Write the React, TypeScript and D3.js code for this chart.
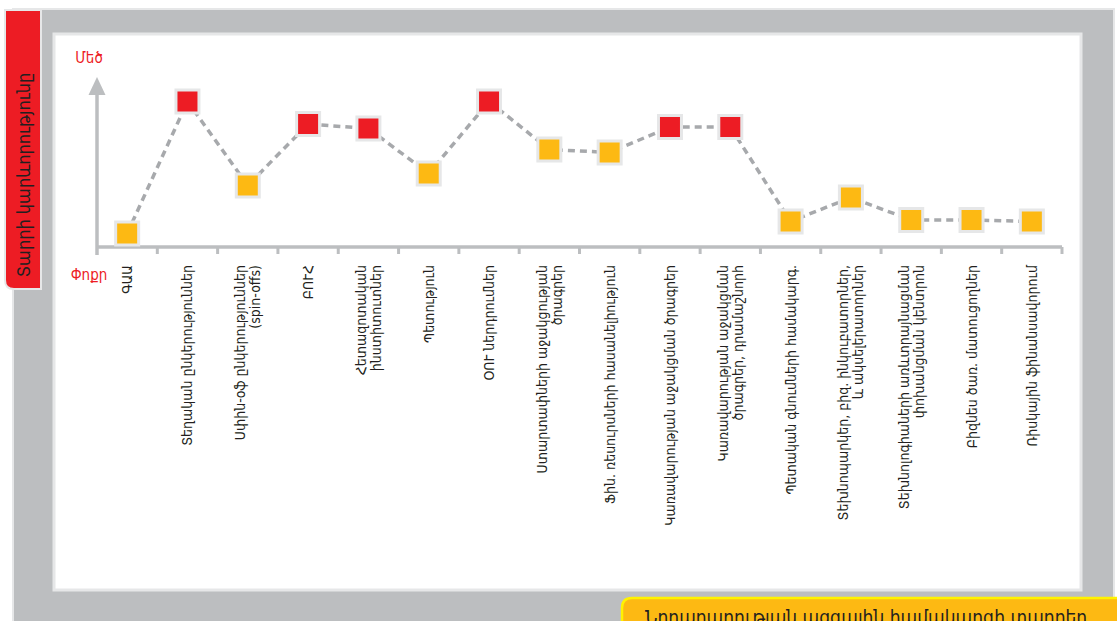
import React from "react";
import * as d3 from "d3";

const categories: string[] = [
  "ԳԱԱ",
  "Տեղական ընկերություններ",
  "Սփին-օֆ ընկերություններ\n(spin-offs)",
  "ԲՈՒՀ",
  "Հետազոտական\nինստիտուտներ",
  "Պետություն",
  "ՕՈՒ ներդրումներ",
  "Ստարտափների աջակցության\nծրագրեր",
  "Ֆին. ռեսուրսների հասանելիություն",
  "Կառավարության աջակցման ծրագրեր",
  "Կառավարության աջակցման\nծրագրեր, դրամաշնորհ",
  "Պետական գնումների համակարգ.",
  "Տեխնոպարկեր, բիզ. ինկուբատորներ,\nև ակսելերատորներ",
  "Տեխնոլոգիաների առևտրայնացման\nփոխանցման կենտրոն",
  "Բիզնես ծառ. մատուցողներ",
  "Ռիսկային ֆինանսավորում",
];

const importance: number[] = [0.9, 9.7, 4.1, 8.2, 7.9, 4.9, 9.7, 6.5, 6.3, 8.0, 8.0, 1.7, 3.3, 1.8, 1.8, 1.7];
const level: string[] = ["low", "high", "low", "high", "high", "low", "high", "low", "low", "high", "high", "low", "low", "low", "low", "low"];

const yAxisTitle = "Տարրի կարևորությունը";
const highLabel = "Մեծ";
const lowLabel = "Փոքր";
const bannerText = "Նորարարության ազգային համակարգի տարրեր";

const RED = "#ED1C24";
const YELLOW = "#FDB913";
const AXIS = "#BCBEC0";
const FONT = "'DejaVu Sans Condensed', 'DejaVu Sans', sans-serif";

export default function App() {
  const W = 1117, H = 621;
  const x0 = 97, x1 = 1062, axisY = 247;
  const x = d3.scaleBand<number>().domain(d3.range(categories.length)).range([x0, x1]).padding(0);
  const y = d3.scaleLinear().domain([0, 10]).range([axisY, 97]);
  const cx = (i: number) => (x(i) as number) + x.bandwidth() / 2;
  const line = d3.line<number>().x((d, i) => cx(i)).y((d) => y(d));
  const ticks = d3.range(1, categories.length + 1).map((i) => x0 + i * x.step());
  const lh = 15;

  return (
    <svg width={W} height={H} style={{ position: "fixed", left: 0, top: 0, background: "#fff" }} fontFamily={FONT}>
      {/* outer gray panel */}
      <rect x={13} y={9} width={1101} height={640} fill={AXIS} stroke="#E6E7E8" strokeWidth={2} />
      {/* white plot panel */}
      <rect x={54} y={34} width={1027} height={556} fill="#fff" stroke="#E6E7E8" strokeWidth={3} />
      {/* red tab */}
      <path d="M5,10 H41 V289 H14 Q5,289 5,280 Z" fill={RED} stroke="#E6E7E8" strokeWidth={2} />
      <text transform="translate(23,175) rotate(-90)" textAnchor="middle" dominantBaseline="central" fontSize={18} fill="#231F20">
        {yAxisTitle}
      </text>
      {/* axes */}
      <line x1={x0} x2={x0} y1={255} y2={92} stroke={AXIS} strokeWidth={3.5} />
      <path d={`M${x0},77 L${x0 + 8.5},95 L${x0 - 8.5},95 Z`} fill={AXIS} />
      <line x1={x0} x2={x1} y1={axisY} y2={axisY} stroke={AXIS} strokeWidth={3.5} />
      {ticks.map((t, i) => (
        <line key={i} x1={t} x2={t} y1={axisY} y2={axisY + 7} stroke={AXIS} strokeWidth={3} />
      ))}
      <text x={89} y={58} textAnchor="middle" dominantBaseline="central" fontSize={15} fill={RED}>{highLabel}</text>
      <text x={89} y={275} textAnchor="middle" dominantBaseline="central" fontSize={15} fill={RED}>{lowLabel}</text>
      {/* dashed line */}
      <path d={line(importance) || ""} fill="none" stroke="#A7A9AC" strokeWidth={3.5} strokeDasharray="7,5" />
      {/* markers */}
      {importance.map((v, i) => (
        <g key={i}>
          <rect x={cx(i) - 13} y={y(v) - 13} width={26} height={26} fill="#E6E7E8" />
          <rect x={cx(i) - 10} y={y(v) - 10} width={20} height={20} fill={level[i] === "high" ? RED : YELLOW} />
        </g>
      ))}
      {/* category labels */}
      {categories.map((c, i) => {
        const lines = c.split("\n");
        return (
          <text key={i} transform={`translate(${cx(i)},265) rotate(-90)`} textAnchor="end" fontSize={14} fill="#231F20">
            {lines.map((l, j) => (
              <tspan key={j} x={0} y={(j - (lines.length - 1) / 2) * lh + 5}>{l}</tspan>
            ))}
          </text>
        );
      })}
      {/* banner */}
      <path d="M622,640 V608 Q622,598 632,598 H1130 V640 Z" fill={YELLOW} stroke="#FFF200" strokeWidth={2.5} />
      <text x={645} y={624} fontSize={19} fill="#231F20">{bannerText}</text>
    </svg>
  );
}
